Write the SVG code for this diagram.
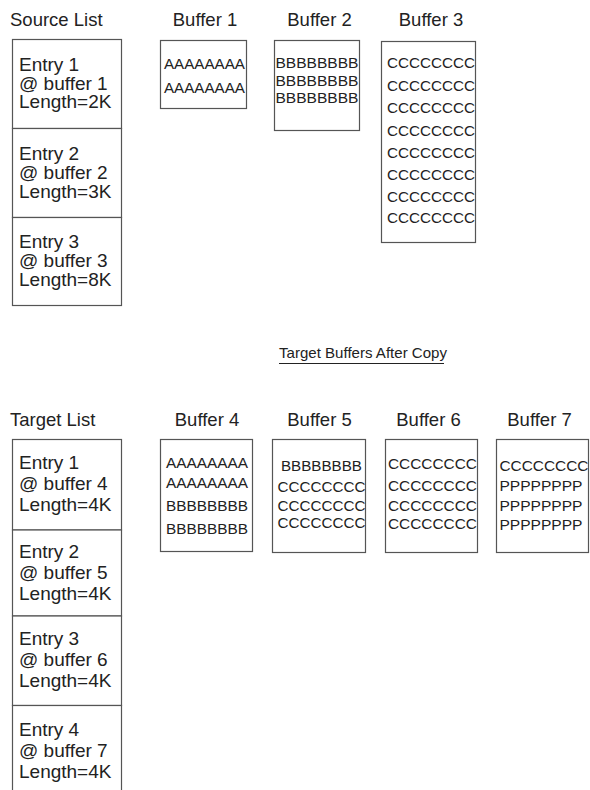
<svg xmlns="http://www.w3.org/2000/svg" width="590" height="790" viewBox="0 0 590 790">
<style>
  .bg { fill: #ffffff; }
  .box { fill: #ffffff; stroke: #555555; stroke-width: 1.2; }
  .title { font-family: "Liberation Sans", Arial, sans-serif; font-size: 18.5px; fill: #222222; }
  .entry { font-family: "Liberation Sans", Arial, sans-serif; font-size: 19px; fill: #222222; }
  .data { font-family: "Liberation Sans", Arial, sans-serif; font-size: 15px; fill: #222222; }
  .caption { font-family: "Liberation Sans", Arial, sans-serif; font-size: 15px; fill: #222222; }
  .rule { stroke: #222222; stroke-width: 1; }
</style>
<rect class="bg" x="0" y="0" width="590" height="790"/>

<!-- Top row titles -->
<g id="source-list-title"><text class="title" x="10" y="26">Source List</text></g>

<!-- Source list entries -->
<g id="source-entry-1">
  <rect class="box" x="12.5" y="39.5" width="109" height="89"/>
  <text class="entry" x="19" y="70.7">Entry 1</text>
  <text class="entry" x="19" y="89.5">@ buffer 1</text>
  <text class="entry" x="19" y="108.3">Length=2K</text>
</g>
<g id="source-entry-2">
  <rect class="box" x="12.5" y="128.5" width="109" height="89"/>
  <text class="entry" x="19" y="160">Entry 2</text>
  <text class="entry" x="19" y="179">@ buffer 2</text>
  <text class="entry" x="19" y="198">Length=3K</text>
</g>
<g id="source-entry-3">
  <rect class="box" x="12.5" y="217.5" width="109" height="88"/>
  <text class="entry" x="19" y="248.3">Entry 3</text>
  <text class="entry" x="19" y="267">@ buffer 3</text>
  <text class="entry" x="19" y="286">Length=8K</text>
</g>

<!-- Source buffers -->
<g id="buffer-1">
  <text class="title" x="205" y="26" text-anchor="middle">Buffer 1</text>
  <rect class="box" x="160.5" y="40.5" width="86" height="68"/>
  <text class="data" x="164" y="69.3" textLength="81" lengthAdjust="spacingAndGlyphs">AAAAAAAA</text>
  <text class="data" x="164" y="93.3" textLength="81" lengthAdjust="spacingAndGlyphs">AAAAAAAA</text>
</g>
<g id="buffer-2">
  <text class="title" x="319.5" y="26" text-anchor="middle">Buffer 2</text>
  <rect class="box" x="274.5" y="40.5" width="85" height="90"/>
  <text class="data" x="275.5" y="68.3" textLength="83" lengthAdjust="spacingAndGlyphs">BBBBBBBB</text>
  <text class="data" x="275.5" y="86" textLength="83" lengthAdjust="spacingAndGlyphs">BBBBBBBB</text>
  <text class="data" x="275.5" y="103.3" textLength="83" lengthAdjust="spacingAndGlyphs">BBBBBBBB</text>
</g>
<g id="buffer-3">
  <text class="title" x="431" y="26" text-anchor="middle">Buffer 3</text>
  <rect class="box" x="381.5" y="41.5" width="94" height="201"/>
  <text class="data" x="387" y="68.3" textLength="88" lengthAdjust="spacingAndGlyphs">CCCCCCCC</text>
  <text class="data" x="387" y="91" textLength="88" lengthAdjust="spacingAndGlyphs">CCCCCCCC</text>
  <text class="data" x="387" y="113.3" textLength="88" lengthAdjust="spacingAndGlyphs">CCCCCCCC</text>
  <text class="data" x="387" y="135.7" textLength="88" lengthAdjust="spacingAndGlyphs">CCCCCCCC</text>
  <text class="data" x="387" y="158" textLength="88" lengthAdjust="spacingAndGlyphs">CCCCCCCC</text>
  <text class="data" x="387" y="180" textLength="88" lengthAdjust="spacingAndGlyphs">CCCCCCCC</text>
  <text class="data" x="387" y="201.7" textLength="88" lengthAdjust="spacingAndGlyphs">CCCCCCCC</text>
  <text class="data" x="387" y="223.3" textLength="88" lengthAdjust="spacingAndGlyphs">CCCCCCCC</text>
</g>

<!-- Caption -->
<g id="caption">
  <text class="caption" x="279" y="357.5" textLength="168" lengthAdjust="spacingAndGlyphs">Target Buffers After Copy</text>
  <line class="rule" x1="279" y1="363.5" x2="444" y2="363.5"/>
</g>

<!-- Target list -->
<g id="target-list-title"><text class="title" x="10" y="425.5">Target List</text></g>
<g id="target-entry-1">
  <rect class="box" x="12.5" y="439.5" width="109" height="90.5"/>
  <text class="entry" x="19" y="469.3">Entry 1</text>
  <text class="entry" x="19" y="490.3">@ buffer 4</text>
  <text class="entry" x="19" y="511.3">Length=4K</text>
</g>
<g id="target-entry-2">
  <rect class="box" x="12.5" y="530" width="109" height="86"/>
  <text class="entry" x="19" y="558.3">Entry 2</text>
  <text class="entry" x="19" y="579.3">@ buffer 5</text>
  <text class="entry" x="19" y="600.3">Length=4K</text>
</g>
<g id="target-entry-3">
  <rect class="box" x="12.5" y="616" width="109" height="89.5"/>
  <text class="entry" x="19" y="645">Entry 3</text>
  <text class="entry" x="19" y="666">@ buffer 6</text>
  <text class="entry" x="19" y="687">Length=4K</text>
</g>
<g id="target-entry-4">
  <rect class="box" x="12.5" y="705.5" width="109" height="100"/>
  <text class="entry" x="19" y="735.7">Entry 4</text>
  <text class="entry" x="19" y="756.7">@ buffer 7</text>
  <text class="entry" x="19" y="777.7">Length=4K</text>
</g>

<!-- Target buffers -->
<g id="buffer-4">
  <text class="title" x="207" y="425.5" text-anchor="middle">Buffer 4</text>
  <rect class="box" x="160.5" y="439.5" width="92" height="112"/>
  <text class="data" x="166" y="467.7" textLength="82" lengthAdjust="spacingAndGlyphs">AAAAAAAA</text>
  <text class="data" x="166" y="488.3" textLength="82" lengthAdjust="spacingAndGlyphs">AAAAAAAA</text>
  <text class="data" x="166" y="511" textLength="82" lengthAdjust="spacingAndGlyphs">BBBBBBBB</text>
  <text class="data" x="166" y="534" textLength="82" lengthAdjust="spacingAndGlyphs">BBBBBBBB</text>
</g>
<g id="buffer-5">
  <text class="title" x="319.5" y="425.5" text-anchor="middle">Buffer 5</text>
  <rect class="box" x="272.5" y="439.5" width="93" height="113"/>
  <text class="data" x="281" y="471" textLength="81" lengthAdjust="spacingAndGlyphs">BBBBBBBB</text>
  <text class="data" x="277.5" y="491.7" textLength="88" lengthAdjust="spacingAndGlyphs">CCCCCCCC</text>
  <text class="data" x="277.5" y="511" textLength="88" lengthAdjust="spacingAndGlyphs">CCCCCCCC</text>
  <text class="data" x="277.5" y="528.3" textLength="88" lengthAdjust="spacingAndGlyphs">CCCCCCCC</text>
</g>
<g id="buffer-6">
  <text class="title" x="428.5" y="425.5" text-anchor="middle">Buffer 6</text>
  <rect class="box" x="385.5" y="439.5" width="92" height="113"/>
  <text class="data" x="388" y="469.3" textLength="89" lengthAdjust="spacingAndGlyphs">CCCCCCCC</text>
  <text class="data" x="388" y="491" textLength="89" lengthAdjust="spacingAndGlyphs">CCCCCCCC</text>
  <text class="data" x="388" y="511" textLength="89" lengthAdjust="spacingAndGlyphs">CCCCCCCC</text>
  <text class="data" x="388" y="529.3" textLength="89" lengthAdjust="spacingAndGlyphs">CCCCCCCC</text>
</g>
<g id="buffer-7">
  <text class="title" x="539.5" y="425.5" text-anchor="middle">Buffer 7</text>
  <rect class="box" x="496.5" y="439.5" width="92" height="113"/>
  <text class="data" x="499.5" y="471" textLength="89" lengthAdjust="spacingAndGlyphs">CCCCCCCC</text>
  <text class="data" x="499.5" y="491" textLength="83" lengthAdjust="spacingAndGlyphs">PPPPPPPP</text>
  <text class="data" x="499.5" y="511" textLength="83" lengthAdjust="spacingAndGlyphs">PPPPPPPP</text>
  <text class="data" x="499.5" y="530" textLength="83" lengthAdjust="spacingAndGlyphs">PPPPPPPP</text>
</g>
</svg>
